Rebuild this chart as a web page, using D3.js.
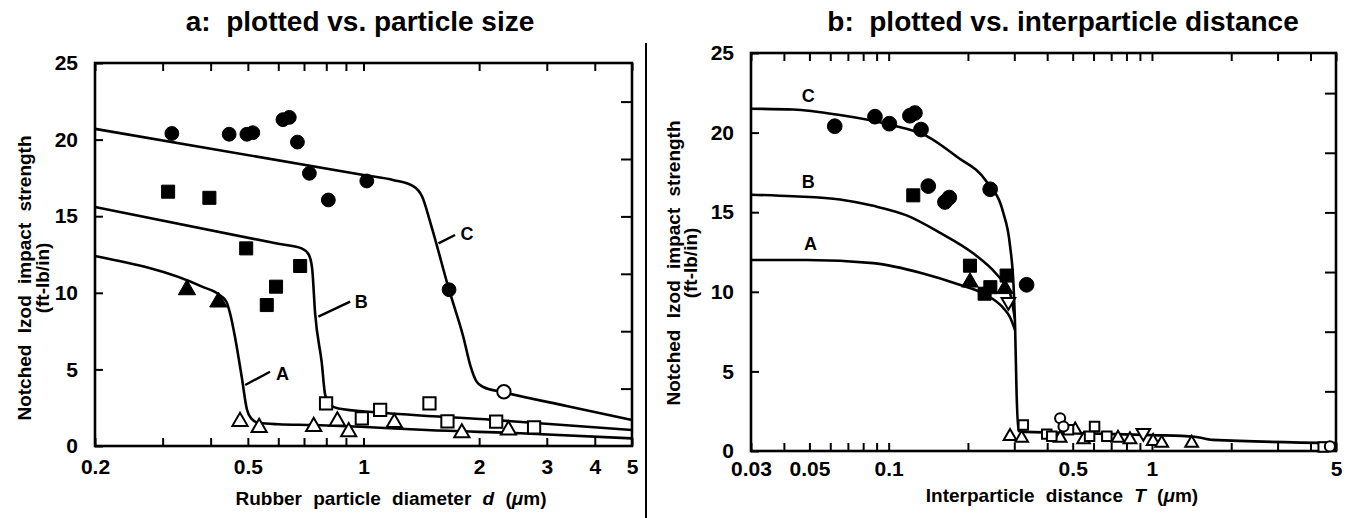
<!DOCTYPE html>
<html lang="en">
<head>
<meta charset="utf-8">
<title>Izod impact strength vs particle size</title>
<style>
  body { margin:0; background:#fff; }
  svg { display:block; }
  text { font-family:"Liberation Sans", Arial, sans-serif; fill:#000; }
  .title { font-size:28px; font-weight:bold; }
  .tick text { font-size:21px; font-weight:bold; }
  .tick line { stroke:#000; stroke-width:2px; }
  .axtitle { font-size:19px; font-weight:bold; word-spacing:6px; }
  .tag { font-size:18px; font-weight:bold; }
  .curve { fill:none; stroke:#000; stroke-width:2.6px; }
  .frame { fill:none; stroke:#000; stroke-width:2.6px; }
</style>
<script src="https://cdn.jsdelivr.net/npm/d3@7"></script>
</head>
<body>
<script>
// ---- panel a : impact strength vs rubber particle diameter d (um) ----
var aCircles = [[0.317,20.4],[0.447,20.35],[0.497,20.35],[0.515,20.45],[0.617,21.3],[0.641,21.45],
                [0.673,19.84],[0.723,17.8],[0.810,16.06],[1.02,17.3],[1.67,10.2]];
var aSquares = [[0.310,16.6],[0.397,16.2],[0.495,12.9],[0.560,9.2],[0.592,10.4],[0.684,11.75]];
var aTriangles = [[0.347,10.2],[0.419,9.4]];
var aOpenCircles = [[2.32,3.54]];
var aOpenSquares = [[0.799,2.79],[0.990,1.81],[1.105,2.35],[1.485,2.79],[1.654,1.6],[2.215,1.59],[2.78,1.22]];
var aOpenTriangles = [[0.477,1.6],[0.535,1.2],[0.742,1.27],[0.855,1.63],[0.915,0.93],[1.203,1.52],[1.803,0.85],[2.384,1.04]];

var aCurveA = [[0.2,12.4],[0.38,10.4],[0.425,9.8],[0.44,9.4],[0.45,8.6],[0.463,7.1],[0.482,4.5],[0.497,2.4],
               [0.51,1.8],[0.535,1.5],[0.6,1.42],[0.74,1.37],[0.98,1.26],[1.46,1.04],[2.56,0.83],[5,0.5]];
var aCurveB = [[0.2,15.6],[0.6,13.2],[0.69,12.9],[0.72,12.5],[0.735,11.6],[0.748,8.7],[0.779,5.4],
               [0.794,3.4],[0.815,2.75],[0.86,2.45],[1.083,2.2],[2.18,1.70],[5,1.04]];
var aCurveC = [[0.2,20.7],[1.0,17.69],[1.2,17.35],[1.35,16.95],[1.42,16.3],[1.5,14.4],[1.67,10.2],[1.82,7.1],
               [1.9,5.2],[1.97,4.2],[2.05,3.85],[2.32,3.5],[3.4,2.6],[5,1.7]];
// curve tags: [label, text d, text v, leader from d, from v, leader to d, to v]
var aTags = [["A",0.615,4.75,0.492,3.98,0.571,4.85],
             ["B",0.986,9.42,0.763,8.44,0.923,9.42],
             ["C",1.86,13.9,1.567,13.23,1.731,13.77]];

var aTickLabels = [0.2,0.5,1,2,3,4,5];
var aTicks = [0.2,0.3,0.4,0.5,0.6,0.7,0.8,0.9,1,2,3,4,5];

// ---- panel b : impact strength vs interparticle distance T (um) ----
var bCircles = [[0.0624,20.4],[0.0887,21.0],[0.1006,20.56],[0.1204,21.06],[0.1258,21.23],[0.1327,20.19],
                [0.2429,16.44],[0.1414,16.64],[0.1636,15.64],[0.1699,15.92],[0.3341,10.44]];
var bSquares = [[0.124,16.06],[0.2036,11.64],[0.2314,9.88],[0.2433,10.29],[0.2805,11.02]];
var bTriangles = [[0.2036,10.6],[0.2762,10.19]];
var bOpenInvTriangles = [[0.2849,9.36],[0.9272,1.13]];
var bOpenTriangles = [[0.289,0.92],[0.32,0.81],[0.448,0.81],[0.511,1.33],[0.55,0.71],[0.743,0.81],
                      [0.825,0.71],[1.01,0.61],[1.089,0.5],[1.415,0.5]];
var bOpenSquares = [[0.3246,1.64],[0.3985,1.06],[0.4164,0.92],[0.4819,1.33],[0.5795,0.92],[0.6054,1.54],
                    [0.6739,0.92],[4.47,0.25]];
var bOpenCircles = [[0.4479,2.06],[0.4612,1.54],[4.74,0.29]];

var bCurveC = [[0.03,21.5],[0.0434,21.45],[0.0653,21.1],[0.101,20.5],[0.139,19.8],[0.181,18.5],[0.236,16.9],
               [0.272,15.0],[0.289,12.9],[0.298,10.4],[0.302,7.9],[0.306,3.7],[0.311,1.25],[0.33,1.2],
               [0.6,1.1],[1.0,1.0],[1.45,0.9],[1.7,0.7],[5,0.5]];
var bCurveB = [[0.03,16.1],[0.0434,16.0],[0.0653,15.8],[0.0874,15.4],[0.117,14.8],[0.157,13.7],[0.21,12.4],
               [0.257,11.1],[0.289,9.9],[0.3015,8.3]];
var bCurveA = [[0.03,12.0],[0.0488,12.0],[0.0874,11.8],[0.135,11.15],[0.181,10.5],[0.243,9.66],[0.272,9.0],
               [0.289,8.4],[0.302,7.6]];
var bTags = [["C",0.0495,22.36],["B",0.0495,16.9],["A",0.0505,13.05]];

var bTickLabels = [0.03,0.05,0.1,0.5,1,5];
var bTicks = [0.03,0.04,0.05,0.06,0.07,0.08,0.09,0.1,0.2,0.3,0.4,0.5,0.6,0.7,0.8,0.9,1,2,3,4,5];

// shared y axis
var yTicks = [0,5,10,15,20,25];
var jmTicks = [200,400,600,800,1000,1200];   // right-hand ticks in J/m
var jmPerFtlb = 53.38;

var svg = d3.select("body").append("svg").attr("width",1349).attr("height",518);

// titles
svg.append("text").attr("class","title").attr("x",360).attr("y",31).attr("text-anchor","middle")
   .style("white-space","pre").text("a:  plotted vs. particle size");
svg.append("text").attr("class","title").attr("x",1063).attr("y",31).attr("text-anchor","middle")
   .style("white-space","pre").text("b:  plotted vs. interparticle distance");

// divider
svg.append("line").attr("x1",646).attr("x2",646).attr("y1",43).attr("y2",518)
   .attr("stroke","#000").attr("stroke-width",2);

var xA = d3.scaleLog().domain([0.2,5]).range([95,632]);
var yA = d3.scaleLinear().domain([0,25]).range([446,63]);
var xB = d3.scaleLog().domain([0.03,5]).range([751,1336]);
var yB = d3.scaleLinear().domain([0,25]).range([451,53]);

function axes(x, y, ticks, labels, pad) {
  var g = svg.append("g");
  var x0 = x.range()[0], x1 = x.range()[1], y0 = y.range()[0], y1 = y.range()[1];
  var yJ = d3.scaleLinear().domain([0,25*jmPerFtlb]).range(y.range());

  g.append("g").attr("transform","translate(0,"+y0+")")
   .call(d3.axisBottom(x).tickValues(ticks).tickSize(-8).tickPadding(pad)
         .tickFormat(function(d){ return labels.indexOf(d) >= 0 ? String(d) : ""; }))
   .call(function(s){ s.select(".domain").remove(); });
  g.append("g").attr("transform","translate(0,"+y1+")")
   .call(d3.axisTop(x).tickValues(ticks).tickSize(-8).tickFormat(""))
   .call(function(s){ s.select(".domain").remove(); });
  g.append("g").attr("transform","translate("+x0+",0)")
   .call(d3.axisLeft(y).tickValues(yTicks).tickSize(-8).tickPadding(17))
   .call(function(s){ s.select(".domain").remove(); });
  g.append("g").attr("transform","translate("+x1+",0)")
   .call(d3.axisRight(yJ).tickValues(jmTicks).tickSize(-11).tickFormat(""))
   .call(function(s){ s.select(".domain").remove(); });

  g.selectAll(".tick text").attr("font-family",null).attr("font-size",null).attr("fill",null);

  g.append("rect").attr("class","frame").attr("x",x0).attr("y",y1)
   .attr("width",x1-x0).attr("height",y0-y1);
  return g;
}

function curve(x, y, pts) {
  svg.append("path").attr("class","curve").datum(pts)
     .attr("d", d3.line().x(function(d){return x(d[0]);}).y(function(d){return y(d[1]);})
                .curve(d3.curveMonotoneX));
}

function marks(x, y, pts, type, size, filled, flip, sw) {
  svg.append("g").selectAll("path").data(pts).enter().append("path")
     .attr("d", d3.symbol().type(type).size(size))
     .attr("transform", function(d){
        return "translate("+x(d[0])+","+y(d[1])+")"+(flip ? " rotate(180)" : "");
     })
     .attr("fill", filled ? "#000" : "#fff")
     .attr("stroke","#000")
     .attr("stroke-width", filled ? 1 : sw);
}

// ----- panel a -----
axes(xA, yA, aTicks, aTickLabels, 13);
curve(xA, yA, aCurveA);
curve(xA, yA, aCurveB);
curve(xA, yA, aCurveC);
marks(xA, yA, aCircles, d3.symbolCircle, 150, true);
marks(xA, yA, aSquares, d3.symbolSquare, 170, true);
marks(xA, yA, aTriangles, d3.symbolTriangle, 130, true);
marks(xA, yA, aOpenCircles, d3.symbolCircle, 140, false, false, 2);
marks(xA, yA, aOpenSquares, d3.symbolSquare, 150, false, false, 2);
marks(xA, yA, aOpenTriangles, d3.symbolTriangle, 100, false, false, 2);

aTags.forEach(function(t){
  svg.append("line").attr("x1",xA(t[3])).attr("y1",yA(t[4])).attr("x2",xA(t[5])).attr("y2",yA(t[6]))
     .attr("stroke","#000").attr("stroke-width",2.4);
  svg.append("text").attr("class","tag").attr("x",xA(t[1])).attr("y",yA(t[2]))
     .attr("text-anchor","middle").attr("dy","0.36em").text(t[0]);
});

// axis titles panel a
svg.append("text").attr("class","axtitle").attr("text-anchor","middle")
   .attr("transform","translate(31,278) rotate(-90)").text("Notched Izod impact strength");
svg.append("text").attr("class","axtitle").attr("text-anchor","middle")
   .attr("transform","translate(49,278) rotate(-90)").text("(ft-lb/in)");
var xa = svg.append("text").attr("class","axtitle").attr("text-anchor","middle")
   .attr("x",391).attr("y",505);
xa.append("tspan").text("Rubber particle diameter ");
xa.append("tspan").style("font-style","italic").text("d");
xa.append("tspan").text(" (");
xa.append("tspan").style("font-style","italic").text("\u03bc");
xa.append("tspan").text("m)");

// ----- panel b -----
axes(xB, yB, bTicks, bTickLabels, 10);
curve(xB, yB, bCurveA);
curve(xB, yB, bCurveB);
curve(xB, yB, bCurveC);
marks(xB, yB, bCircles, d3.symbolCircle, 170, true);
marks(xB, yB, bSquares, d3.symbolSquare, 170, true);
marks(xB, yB, bTriangles, d3.symbolTriangle, 120, true);
marks(xB, yB, bOpenInvTriangles, d3.symbolTriangle, 80, false, true, 2);
marks(xB, yB, bOpenTriangles, d3.symbolTriangle, 70, false, false, 2);
marks(xB, yB, bOpenSquares, d3.symbolSquare, 90, false, false, 2);
marks(xB, yB, bOpenCircles, d3.symbolCircle, 80, false, false, 2);

bTags.forEach(function(t){
  svg.append("text").attr("class","tag").attr("x",xB(t[1])).attr("y",yB(t[2]))
     .attr("text-anchor","middle").attr("dy","0.36em").text(t[0]);
});

svg.append("text").attr("class","axtitle").attr("text-anchor","middle")
   .attr("transform","translate(680,263) rotate(-90)").text("Notched Izod impact strength");
svg.append("text").attr("class","axtitle").attr("text-anchor","middle")
   .attr("transform","translate(697,263) rotate(-90)").text("(ft-lb/in)");
var xb = svg.append("text").attr("class","axtitle").attr("text-anchor","middle")
   .attr("x",1062).attr("y",502);
xb.append("tspan").text("Interparticle distance ");
xb.append("tspan").style("font-style","italic").text("T");
xb.append("tspan").text(" (");
xb.append("tspan").style("font-style","italic").text("\u03bc");
xb.append("tspan").text("m)");
</script>
</body>
</html>
